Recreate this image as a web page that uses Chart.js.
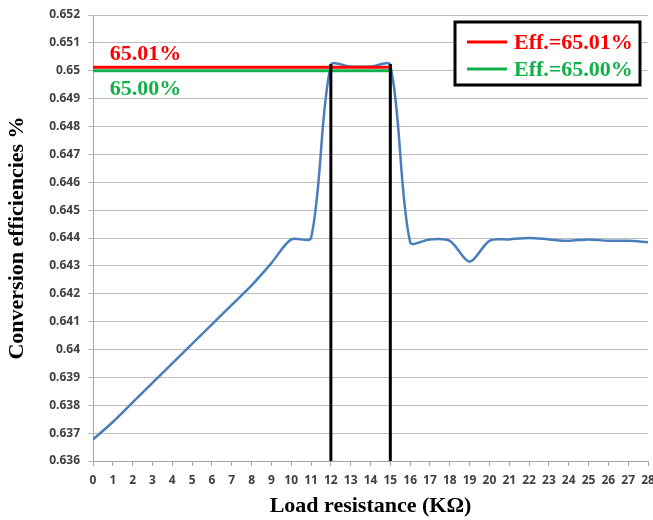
<!DOCTYPE html>
<html>
<head>
<meta charset="utf-8">
<title>Conversion efficiency vs load resistance</title>
<script src="https://cdn.jsdelivr.net/npm/chart.js@4/dist/chart.umd.min.js"></script>
<style>
  html, body { margin: 0; padding: 0; background: #fff; }
  #wrap { width: 653px; height: 520px; position: relative; }
</style>
</head>
<body>
<div id="wrap"><canvas id="chart"></canvas></div>
<script>
// load resistance (kΩ) and measured conversion efficiency
const loadKOhm = [0, 1, 2, 3, 4, 5, 6, 7, 8, 9, 10, 11, 12, 13, 14, 15, 16, 17, 18, 19, 20, 21, 22, 23, 24, 25, 26, 27, 28];
const efficiency = [
  0.63677, 0.6374, 0.6381, 0.6388, 0.6395, 0.6402, 0.6409, 0.6416, 0.6423, 0.6431,
  0.64395, 0.6440, 0.6502, 0.65015, 0.65015, 0.6502, 0.64385, 0.64395, 0.6439, 0.64315,
  0.6439, 0.64395, 0.6440, 0.64395, 0.6439, 0.64395, 0.6439, 0.6439, 0.64385
];

// reference levels and the resistance window where they hold
const refLabels = ['Eff.=65.01%', 'Eff.=65.00%'];
const refTexts = ['65.01%', '65.00%'];
const refValues = [0.65013, 0.6500];
const refColors = ['#ff0000', '#12b04a'];
const refSpan = [0, 15];
const markerKOhm = [12, 15];
const markerTop = 0.65024;

const yTicks = { min: 0.636, max: 0.652, step: 0.001 };
const xTicks = { min: 0, max: 28, step: 1 };

const serif = '"Liberation Serif", "Times New Roman", serif';
const tickFont = { family: '"Open Sans", sans-serif', size: 12, weight: 'bold' };

const datasets = [{
  label: 'Efficiency',
  data: loadKOhm.map((x, i) => ({ x, y: efficiency[i] })),
  borderColor: '#4a7ebb',
  borderWidth: 2.5,
  pointRadius: 0,
  tension: 0.3,
  order: 3
}];

refValues.forEach((v, i) => {
  datasets.push({
    label: refLabels[i],
    data: refSpan.map(x => ({ x, y: v })),
    borderColor: refColors[i],
    borderWidth: 3,
    pointRadius: 0,
    order: 2 - i
  });
});

markerKOhm.forEach(x => {
  datasets.push({
    label: 'marker',
    data: [{ x, y: yTicks.min }, { x, y: markerTop }],
    borderColor: '#000',
    borderWidth: 3,
    pointRadius: 0,
    order: 0
  });
});

// inline value texts next to the reference lines + boxed legend
const overlay = {
  id: 'overlay',
  afterDraw(chart) {
    const { ctx, chartArea, scales } = chart;
    const y = scales.y;
    const x = scales.x;
    ctx.save();
    ctx.font = 'bold 22px ' + serif;
    ctx.textAlign = 'left';
    ctx.fillStyle = refColors[0];
    ctx.textBaseline = 'alphabetic';
    ctx.fillText(refTexts[0], x.getPixelForValue(0.85), y.getPixelForValue(refValues[0]) - 7);
    ctx.fillStyle = refColors[1];
    ctx.textBaseline = 'top';
    ctx.fillText(refTexts[1], x.getPixelForValue(0.85), y.getPixelForValue(refValues[1]) + 8);

    // legend box
    const bw = 185, bh = 63;
    const bx = chartArea.right - 8 - bw;
    const by = chartArea.top + 7;
    ctx.fillStyle = '#fff';
    ctx.fillRect(bx, by, bw, bh);
    ctx.lineWidth = 3;
    ctx.strokeStyle = '#000';
    ctx.strokeRect(bx, by, bw, bh);
    ctx.textBaseline = 'middle';
    refLabels.forEach((lab, i) => {
      const ly = by + 20 + i * 27;
      ctx.strokeStyle = refColors[i];
      ctx.lineWidth = 3;
      ctx.beginPath();
      ctx.moveTo(bx + 12, ly);
      ctx.lineTo(bx + 52, ly);
      ctx.stroke();
      ctx.fillStyle = refColors[i];
      ctx.fillText(lab, bx + 59, ly + 1);
    });
    ctx.restore();
  }
};

new Chart(document.getElementById('chart'), {
  type: 'line',
  data: { datasets },
  options: {
    responsive: true,
    maintainAspectRatio: false,
    animation: false,
    layout: { padding: { top: 15, right: 5, left: 0, bottom: 0 } },
    plugins: { legend: { display: false }, tooltip: { enabled: false } },
    scales: {
      x: {
        type: 'linear',
        min: xTicks.min,
        max: xTicks.max,
        afterFit(scale) {
          scale.height = 59;
          scale.paddingLeft = 0;
          scale.paddingRight = 0;
        },
        ticks: {
          stepSize: xTicks.step,
          color: '#404040',
          font: tickFont,
          padding: 7,
          maxRotation: 0,
          autoSkip: false
        },
        grid: { drawOnChartArea: false, drawTicks: true, tickLength: 5, color: '#a6a6a6' },
        border: { color: '#a6a6a6' },
        title: {
          display: true,
          text: 'Load resistance (KΩ)',
          color: '#000',
          font: { family: serif, size: 22, weight: 'bold' },
          padding: { top: 4, bottom: 0 }
        }
      },
      y: {
        min: yTicks.min,
        max: yTicks.max,
        afterFit(scale) {
          scale.width = 93;
          scale.paddingTop = 0;
          scale.paddingBottom = 0;
        },
        ticks: {
          stepSize: yTicks.step,
          color: '#404040',
          font: tickFont,
          padding: 8,
          callback: v => String(+v.toFixed(3))
        },
        grid: { color: '#bdbdbd', tickLength: 5, drawTicks: true },
        border: { color: '#a6a6a6' },
        title: {
          display: true,
          text: 'Conversion efficiencies %',
          color: '#000',
          font: { family: serif, size: 22, weight: 'bold' },
          padding: { top: 4, bottom: 0 }
        }
      }
    }
  },
  plugins: [overlay]
});
</script>
</body>
</html>
